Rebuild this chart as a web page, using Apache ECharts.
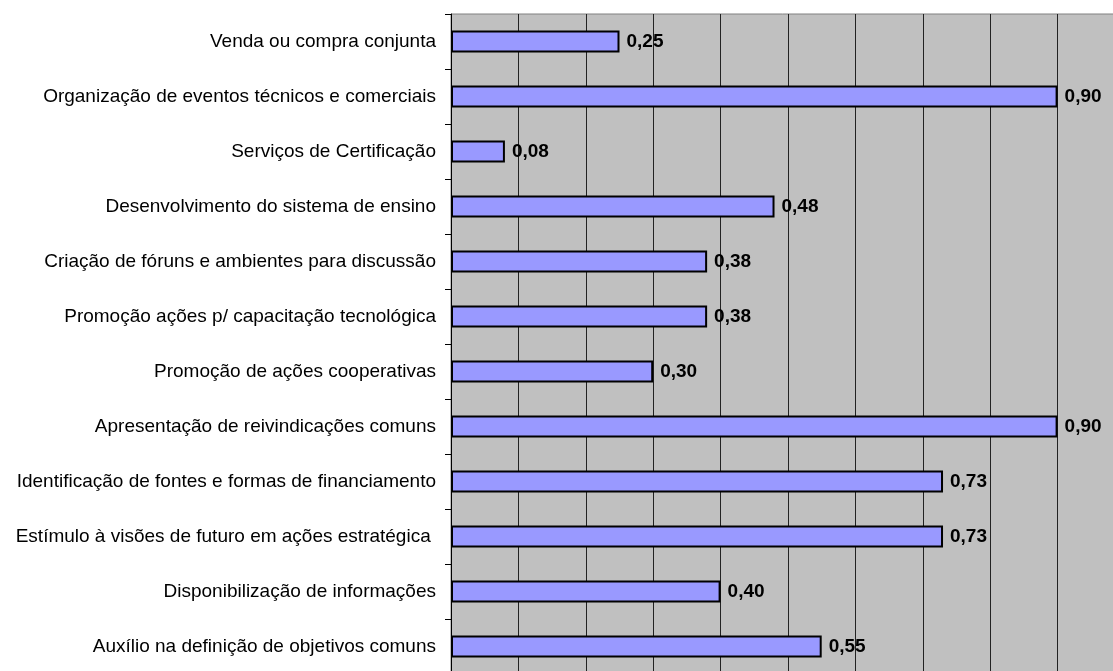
<!DOCTYPE html>
<html><head><meta charset="utf-8">
<script src="https://cdn.jsdelivr.net/npm/echarts@6/dist/echarts.min.js"></script>
<style>html,body{margin:0;padding:0;background:#fff;}#c{width:1113px;height:671px;}</style>
</head><body><div id="c"></div>
<script>
const categories = [
  "Venda ou compra conjunta",
  "Organização de eventos técnicos e comerciais",
  "Serviços de Certificação",
  "Desenvolvimento do sistema de ensino",
  "Criação de fóruns e ambientes para discussão",
  "Promoção ações p/ capacitação tecnológica",
  "Promoção de ações cooperativas",
  "Apresentação de reivindicações comuns",
  "Identificação de fontes e formas de financiamento",
  "Estímulo à visões de futuro em ações estratégica ",
  "Disponibilização de informações",
  "Auxílio na definição de objetivos comuns"
];
const values = [0.25, 0.90, 0.08, 0.48, 0.38, 0.38, 0.30, 0.90, 0.73, 0.73, 0.40, 0.55];

const chart = echarts.init(document.getElementById('c'));
chart.setOption({
  animation: false,
  grid: {left: 451, top: 14, width: 674, height: 660, outerBoundsMode: 'none', containLabel: false,
    show: true, backgroundColor: '#C0C0C0', borderColor: '#808080', borderWidth: 1},
  xAxis: {
    type: 'value', min: 0, max: 1.0, interval: 0.1,
    axisLabel: {show: false}, axisTick: {show: false}, axisLine: {show: false},
    splitLine: {show: true, lineStyle: {color: '#222', width: 1}}
  },
  yAxis: {
    type: 'category', data: categories, inverse: true,
    axisLine: {show: true, lineStyle: {color: '#000', width: 1}},
    axisTick: {show: true, length: 6, lineStyle: {color: '#000'}},
    axisLabel: {color: '#000', fontFamily: 'Liberation Sans, Arial, sans-serif', fontSize: 19, margin: 15}
  },
  series: [{
    type: 'bar', data: values, barCategoryGap: '60%',
    itemStyle: {color: '#9999FF', borderColor: '#000', borderWidth: 2},
    label: {show: true, position: 'right', distance: 7, color: '#000', fontWeight: 'bold',
      fontFamily: 'Liberation Sans, Arial, sans-serif', fontSize: 19,
      formatter: p => p.value.toFixed(2).replace('.', ',')}
  }]
});
</script></body></html>
